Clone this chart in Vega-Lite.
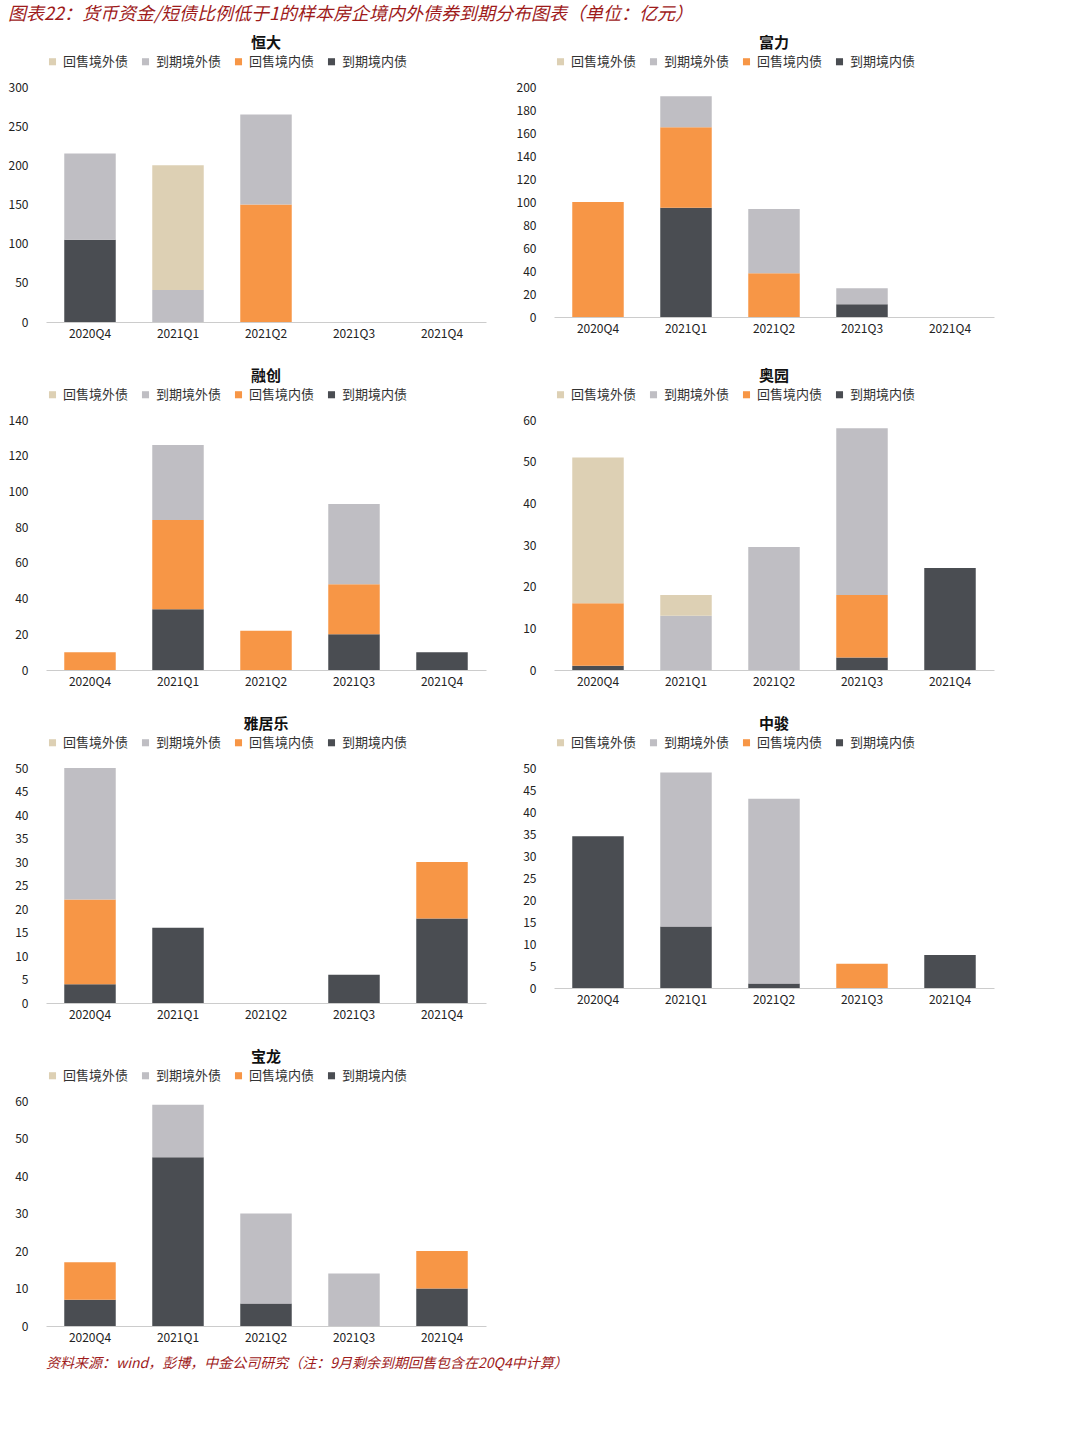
{
  "$schema": "https://vega.github.io/schema/vega-lite/v6.json",
  "background": "white",
  "padding": {"left": 8, "top": 6, "right": 8, "bottom": 4},
  "title": {"text": "图表22：货币资金/短债比例低于1的样本房企境内外债券到期分布图表（单位：亿元）", "anchor": "start", "color": "#9e1b1b", "font": "Noto Sans CJK SC", "fontSize": 18, "fontStyle": "italic", "fontWeight": "normal", "offset": 12},
  "config": {
    "font": "Noto Sans CJK SC",
    "view": {"stroke": null},
    "axis": {"labelFontSize": 12, "labelColor": "#222", "grid": false, "ticks": false, "title": null},
    "axisX": {"labelAngle": 0, "domainColor": "#ccc", "labelPadding": 6},
    "axisY": {"domain": false, "labelPadding": 18},
    "legend": {"orient": "top", "direction": "horizontal", "title": null, "symbolType": "square", "symbolSize": 50, "labelFontSize": 13, "labelColor": "#333", "columnPadding": 10, "symbolStrokeWidth": 0},
    "title": {"fontSize": 15, "fontWeight": "bold", "font": "Noto Sans CJK SC", "color": "#111"}
  },
  "datasets": {
    "d": [
      {"c": "恒大", "q": "2020Q4", "t": "到期境内债", "v": 105},
      {"c": "恒大", "q": "2020Q4", "t": "到期境外债", "v": 110},
      {"c": "恒大", "q": "2021Q1", "t": "到期境外债", "v": 41},
      {"c": "恒大", "q": "2021Q1", "t": "回售境外债", "v": 159},
      {"c": "恒大", "q": "2021Q2", "t": "回售境内债", "v": 150},
      {"c": "恒大", "q": "2021Q2", "t": "到期境外债", "v": 115},
      {"c": "富力", "q": "2020Q4", "t": "回售境内债", "v": 100},
      {"c": "富力", "q": "2021Q1", "t": "到期境内债", "v": 95},
      {"c": "富力", "q": "2021Q1", "t": "回售境内债", "v": 70},
      {"c": "富力", "q": "2021Q1", "t": "到期境外债", "v": 27},
      {"c": "富力", "q": "2021Q2", "t": "回售境内债", "v": 38},
      {"c": "富力", "q": "2021Q2", "t": "到期境外债", "v": 56},
      {"c": "富力", "q": "2021Q3", "t": "到期境内债", "v": 11},
      {"c": "富力", "q": "2021Q3", "t": "到期境外债", "v": 14},
      {"c": "融创", "q": "2020Q4", "t": "回售境内债", "v": 10},
      {"c": "融创", "q": "2021Q1", "t": "到期境内债", "v": 34},
      {"c": "融创", "q": "2021Q1", "t": "回售境内债", "v": 50},
      {"c": "融创", "q": "2021Q1", "t": "到期境外债", "v": 42},
      {"c": "融创", "q": "2021Q2", "t": "回售境内债", "v": 22},
      {"c": "融创", "q": "2021Q3", "t": "到期境内债", "v": 20},
      {"c": "融创", "q": "2021Q3", "t": "回售境内债", "v": 28},
      {"c": "融创", "q": "2021Q3", "t": "到期境外债", "v": 45},
      {"c": "融创", "q": "2021Q4", "t": "到期境内债", "v": 10},
      {"c": "奥园", "q": "2020Q4", "t": "到期境内债", "v": 1},
      {"c": "奥园", "q": "2020Q4", "t": "回售境内债", "v": 15},
      {"c": "奥园", "q": "2020Q4", "t": "回售境外债", "v": 35},
      {"c": "奥园", "q": "2021Q1", "t": "到期境外债", "v": 13},
      {"c": "奥园", "q": "2021Q1", "t": "回售境外债", "v": 5},
      {"c": "奥园", "q": "2021Q2", "t": "到期境外债", "v": 29.5},
      {"c": "奥园", "q": "2021Q3", "t": "到期境内债", "v": 3},
      {"c": "奥园", "q": "2021Q3", "t": "回售境内债", "v": 15},
      {"c": "奥园", "q": "2021Q3", "t": "到期境外债", "v": 40},
      {"c": "奥园", "q": "2021Q4", "t": "到期境内债", "v": 24.5},
      {"c": "雅居乐", "q": "2020Q4", "t": "到期境内债", "v": 4},
      {"c": "雅居乐", "q": "2020Q4", "t": "回售境内债", "v": 18},
      {"c": "雅居乐", "q": "2020Q4", "t": "到期境外债", "v": 28},
      {"c": "雅居乐", "q": "2021Q1", "t": "到期境内债", "v": 16},
      {"c": "雅居乐", "q": "2021Q3", "t": "到期境内债", "v": 6},
      {"c": "雅居乐", "q": "2021Q4", "t": "到期境内债", "v": 18},
      {"c": "雅居乐", "q": "2021Q4", "t": "回售境内债", "v": 12},
      {"c": "中骏", "q": "2020Q4", "t": "到期境内债", "v": 34.5},
      {"c": "中骏", "q": "2021Q1", "t": "到期境内债", "v": 14},
      {"c": "中骏", "q": "2021Q1", "t": "到期境外债", "v": 35},
      {"c": "中骏", "q": "2021Q2", "t": "到期境内债", "v": 1},
      {"c": "中骏", "q": "2021Q2", "t": "到期境外债", "v": 42},
      {"c": "中骏", "q": "2021Q3", "t": "回售境内债", "v": 5.5},
      {"c": "中骏", "q": "2021Q4", "t": "到期境内债", "v": 7.5},
      {"c": "宝龙", "q": "2020Q4", "t": "到期境内债", "v": 7},
      {"c": "宝龙", "q": "2020Q4", "t": "回售境内债", "v": 10},
      {"c": "宝龙", "q": "2021Q1", "t": "到期境内债", "v": 45},
      {"c": "宝龙", "q": "2021Q1", "t": "到期境外债", "v": 14},
      {"c": "宝龙", "q": "2021Q2", "t": "到期境内债", "v": 6},
      {"c": "宝龙", "q": "2021Q2", "t": "到期境外债", "v": 24},
      {"c": "宝龙", "q": "2021Q3", "t": "到期境外债", "v": 14},
      {"c": "宝龙", "q": "2021Q4", "t": "到期境内债", "v": 10},
      {"c": "宝龙", "q": "2021Q4", "t": "回售境内债", "v": 10}
    ],
    "foot": [{"s": "资料来源：wind，彭博，中金公司研究（注：9月剩余到期回售包含在20Q4中计算）"}]
  },
  "spacing": 14,
  "vconcat": [
    {
      "data": {"name": "d"},
      "transform": [{"calculate": "indexof(['到期境内债','回售境内债','到期境外债','回售境外债'], datum.t)", "as": "o"}],
      "columns": 2,
      "spacing": 30,
      "resolve": {"legend": {"color": "independent"}, "scale": {"y": "independent"}},
      "concat": [
        {"title": "恒大", "width": 440, "height": 235, "transform": [{"filter": "datum.c=='恒大'"}], "mark": {"type": "bar", "width": {"band": 0.65}},
          "encoding": {"x": {"field": "q", "type": "nominal", "scale": {"domain": ["2020Q4", "2021Q1", "2021Q2", "2021Q3", "2021Q4"]}},
            "y": {"aggregate": "sum", "field": "v", "type": "quantitative", "stack": "zero", "scale": {"domain": [0, 300]}, "axis": {"values": [0, 50, 100, 150, 200, 250, 300]}},
            "color": {"field": "t", "type": "nominal", "scale": {"domain": ["回售境外债", "到期境外债", "回售境内债", "到期境内债"], "range": ["#ddd0b4", "#bfbec3", "#f79646", "#4a4d52"]}},
            "order": {"field": "o", "type": "quantitative"}}},
        {"title": "富力", "width": 440, "height": 230, "transform": [{"filter": "datum.c=='富力'"}], "mark": {"type": "bar", "width": {"band": 0.65}},
          "encoding": {"x": {"field": "q", "type": "nominal", "scale": {"domain": ["2020Q4", "2021Q1", "2021Q2", "2021Q3", "2021Q4"]}},
            "y": {"aggregate": "sum", "field": "v", "type": "quantitative", "stack": "zero", "scale": {"domain": [0, 200]}, "axis": {"values": [0, 20, 40, 60, 80, 100, 120, 140, 160, 180, 200]}},
            "color": {"field": "t", "type": "nominal", "scale": {"domain": ["回售境外债", "到期境外债", "回售境内债", "到期境内债"], "range": ["#ddd0b4", "#bfbec3", "#f79646", "#4a4d52"]}},
            "order": {"field": "o", "type": "quantitative"}}},
        {"title": "融创", "width": 440, "height": 250, "transform": [{"filter": "datum.c=='融创'"}], "mark": {"type": "bar", "width": {"band": 0.65}},
          "encoding": {"x": {"field": "q", "type": "nominal", "scale": {"domain": ["2020Q4", "2021Q1", "2021Q2", "2021Q3", "2021Q4"]}},
            "y": {"aggregate": "sum", "field": "v", "type": "quantitative", "stack": "zero", "scale": {"domain": [0, 140]}, "axis": {"values": [0, 20, 40, 60, 80, 100, 120, 140]}},
            "color": {"field": "t", "type": "nominal", "scale": {"domain": ["回售境外债", "到期境外债", "回售境内债", "到期境内债"], "range": ["#ddd0b4", "#bfbec3", "#f79646", "#4a4d52"]}},
            "order": {"field": "o", "type": "quantitative"}}},
        {"title": "奥园", "width": 440, "height": 250, "transform": [{"filter": "datum.c=='奥园'"}], "mark": {"type": "bar", "width": {"band": 0.65}},
          "encoding": {"x": {"field": "q", "type": "nominal", "scale": {"domain": ["2020Q4", "2021Q1", "2021Q2", "2021Q3", "2021Q4"]}},
            "y": {"aggregate": "sum", "field": "v", "type": "quantitative", "stack": "zero", "scale": {"domain": [0, 60]}, "axis": {"values": [0, 10, 20, 30, 40, 50, 60]}},
            "color": {"field": "t", "type": "nominal", "scale": {"domain": ["回售境外债", "到期境外债", "回售境内债", "到期境内债"], "range": ["#ddd0b4", "#bfbec3", "#f79646", "#4a4d52"]}},
            "order": {"field": "o", "type": "quantitative"}}},
        {"title": "雅居乐", "width": 440, "height": 235, "transform": [{"filter": "datum.c=='雅居乐'"}], "mark": {"type": "bar", "width": {"band": 0.65}},
          "encoding": {"x": {"field": "q", "type": "nominal", "scale": {"domain": ["2020Q4", "2021Q1", "2021Q2", "2021Q3", "2021Q4"]}},
            "y": {"aggregate": "sum", "field": "v", "type": "quantitative", "stack": "zero", "scale": {"domain": [0, 50]}, "axis": {"values": [0, 5, 10, 15, 20, 25, 30, 35, 40, 45, 50]}},
            "color": {"field": "t", "type": "nominal", "scale": {"domain": ["回售境外债", "到期境外债", "回售境内债", "到期境内债"], "range": ["#ddd0b4", "#bfbec3", "#f79646", "#4a4d52"]}},
            "order": {"field": "o", "type": "quantitative"}}},
        {"title": "中骏", "width": 440, "height": 220, "transform": [{"filter": "datum.c=='中骏'"}], "mark": {"type": "bar", "width": {"band": 0.65}},
          "encoding": {"x": {"field": "q", "type": "nominal", "scale": {"domain": ["2020Q4", "2021Q1", "2021Q2", "2021Q3", "2021Q4"]}},
            "y": {"aggregate": "sum", "field": "v", "type": "quantitative", "stack": "zero", "scale": {"domain": [0, 50]}, "axis": {"values": [0, 5, 10, 15, 20, 25, 30, 35, 40, 45, 50]}},
            "color": {"field": "t", "type": "nominal", "scale": {"domain": ["回售境外债", "到期境外债", "回售境内债", "到期境内债"], "range": ["#ddd0b4", "#bfbec3", "#f79646", "#4a4d52"]}},
            "order": {"field": "o", "type": "quantitative"}}},
        {"title": "宝龙", "width": 440, "height": 225, "transform": [{"filter": "datum.c=='宝龙'"}], "mark": {"type": "bar", "width": {"band": 0.65}},
          "encoding": {"x": {"field": "q", "type": "nominal", "scale": {"domain": ["2020Q4", "2021Q1", "2021Q2", "2021Q3", "2021Q4"]}},
            "y": {"aggregate": "sum", "field": "v", "type": "quantitative", "stack": "zero", "scale": {"domain": [0, 60]}, "axis": {"values": [0, 10, 20, 30, 40, 50, 60]}},
            "color": {"field": "t", "type": "nominal", "scale": {"domain": ["回售境外债", "到期境外债", "回售境内债", "到期境内债"], "range": ["#ddd0b4", "#bfbec3", "#f79646", "#4a4d52"]}},
            "order": {"field": "o", "type": "quantitative"}}}
      ]
    },
    {
      "data": {"name": "foot"},
      "width": 1040, "height": 14,
      "mark": {"type": "text", "align": "left", "fontStyle": "italic", "fontSize": 14, "color": "#9e1b1b"},
      "encoding": {"text": {"field": "s"}, "x": {"value": 0}}
    }
  ]
}
